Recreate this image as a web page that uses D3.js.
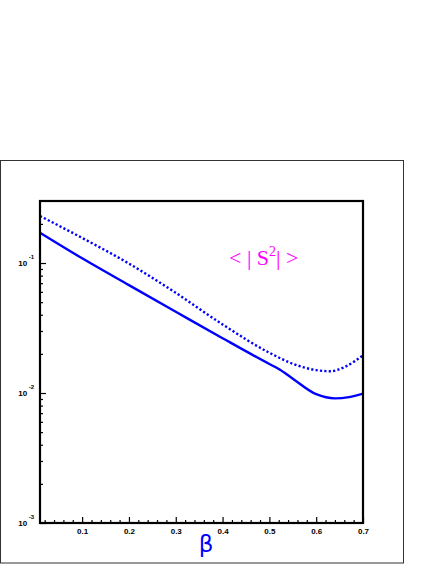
<!DOCTYPE html>
<html>
<head>
<meta charset="utf-8">
<script src="https://cdn.jsdelivr.net/npm/d3@7"></script>
<style>
  body { margin: 0; background: #fff; }
  .tick-label { font-family: "Liberation Sans", Arial, sans-serif; font-weight: bold; font-size: 8px; fill: #000; }
</style>
</head>
<body>
<svg width="436" height="564"></svg>
<script>
// beta values for each curve
var betaSolid = [0.01, 0.1, 0.2, 0.3, 0.4, 0.5, 0.52, 0.55, 0.6, 0.64, 0.67, 0.7];
var solidValues = [0.171, 0.1087, 0.0676, 0.0422, 0.0264, 0.0167, 0.0153, 0.0129, 0.0098, 0.0091, 0.0093, 0.0099];
var betaDotted = [0.01, 0.1, 0.2, 0.3, 0.4, 0.5, 0.55, 0.6, 0.63, 0.66, 0.7];
var dottedValues = [0.23, 0.156, 0.099, 0.059, 0.0337, 0.0204, 0.0168, 0.015, 0.0147, 0.0158, 0.0195];
var xTicks = [0.1, 0.2, 0.3, 0.4, 0.5, 0.6, 0.7];
var yTicks = [1e-3, 1e-2, 1e-1];
var yTickExp = ["-3", "-2", "-1"];

var svg = d3.select("svg"),
  margin = { top: 201, left: 40, right: 73, bottom: 41 },
  width = +svg.attr("width") - margin.left - margin.right,
  height = +svg.attr("height") - margin.top - margin.bottom;

// outer frame
svg.append("rect")
  .attr("x", 0.5).attr("y", 160.5)
  .attr("width", 403).attr("height", 402.5)
  .attr("fill", "none").attr("stroke", "#333").attr("stroke-width", 1);

var x = d3.scaleLinear().domain([0.01, 0.7]).range([0, width]);
var y = d3.scaleLog().domain([1e-3, 0.3]).range([height, 0]);

var g = svg.append("g")
  .attr("transform", "translate(" + margin.left + "," + margin.top + ")");

// x minor + major ticks (pointing up inside the frame)
var xMinor = d3.range(0.02, 0.7001, 0.02).filter(function(d) {
  return Math.abs(d * 10 - Math.round(d * 10)) > 1e-6;
});
g.append("g")
  .attr("transform", "translate(0," + height + ")")
  .call(d3.axisBottom(x).tickValues(xMinor).tickSize(-3).tickFormat(""))
  .call(function(a) { a.select(".domain").remove(); a.selectAll("line").attr("stroke-width", 1.2); });
var xAxis = g.append("g")
  .attr("transform", "translate(0," + height + ")")
  .call(d3.axisBottom(x).tickValues(xTicks).tickSize(-6).tickPadding(8).tickFormat(d3.format(".1f")));
xAxis.select(".domain").remove();
xAxis.selectAll("line").attr("stroke-width", 1.2);
xAxis.selectAll("text").attr("class", "tick-label").attr("dy", "0.32em");

// y minor ticks
var yMinor = [];
[1e-3, 1e-2, 1e-1].forEach(function(dec) {
  for (var k = 2; k <= 9; k++) if (dec * k <= 0.3) yMinor.push(dec * k);
});
g.append("g")
  .call(d3.axisLeft(y).tickValues(yMinor).tickSize(-3).tickFormat(""))
  .call(function(a) { a.select(".domain").remove(); a.selectAll("line").attr("stroke-width", 1.2); });
var yAxis = g.append("g")
  .call(d3.axisLeft(y).tickValues(yTicks).tickSize(-6).tickFormat(""));
yAxis.select(".domain").remove();
yAxis.selectAll("line").attr("stroke-width", 1.2);

// y labels 10^n
var yl = g.append("g").selectAll("text")
  .data(yTicks)
  .enter()
  .append("text")
  .attr("class", "tick-label")
  .attr("x", -6)
  .attr("y", function(d) { return y(d) + 3; })
  .attr("text-anchor", "end");
yl.append("tspan").text("10");
yl.append("tspan")
  .attr("font-size", "6px")
  .attr("dx", 1.5)
  .attr("dy", -7)
  .text(function(d, i) { return yTickExp[i]; });

// curves
var line = d3.line()
  .x(function(d) { return x(d[0]); })
  .y(function(d) { return y(d[1]); })
  .curve(d3.curveMonotoneX);

g.append("path")
  .datum(d3.zip(betaSolid, solidValues))
  .attr("d", line)
  .attr("fill", "none")
  .attr("stroke", "#0000ff")
  .attr("stroke-width", 2.4);

g.append("path")
  .datum(d3.zip(betaDotted, dottedValues))
  .attr("d", line)
  .attr("fill", "none")
  .attr("stroke", "#0000ff")
  .attr("stroke-width", 2.4)
  .attr("stroke-dasharray", "2.2,2.2");

// plot frame
g.append("rect")
  .attr("width", width).attr("height", height)
  .attr("fill", "none").attr("stroke", "#000").attr("stroke-width", 2.2);

// label < |S^2| >
var lab = svg.append("text")
  .attr("x", 229)
  .attr("y", 265)
  .attr("font-family", "'Liberation Serif', 'Times New Roman', serif")
  .attr("font-size", "22px")
  .attr("fill", "#ff00ff");
lab.append("tspan").text("< | S");
lab.append("tspan").attr("font-size", "14px").attr("dy", -9).text("2");
lab.append("tspan").attr("dy", 9).text("| >");

// x title
svg.append("text")
  .attr("x", 206)
  .attr("y", 552)
  .attr("text-anchor", "middle")
  .attr("font-family", "'DejaVu Sans', sans-serif")
  .attr("font-size", "23px")
  .attr("fill", "#0000ff")
  .text("β");
</script>
</body>
</html>
